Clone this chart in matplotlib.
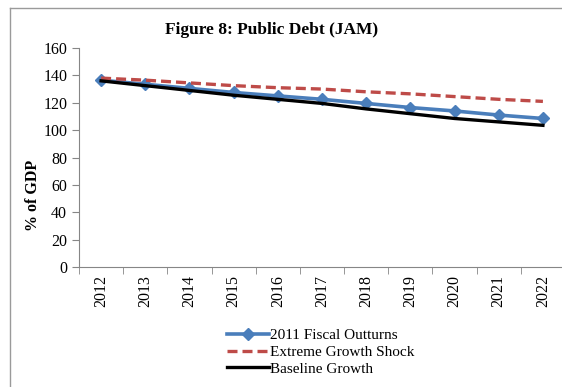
import matplotlib.pyplot as plt
from matplotlib.lines import Line2D

years = ['2012', '2013', '2014', '2015', '2016', '2017', '2018', '2019', '2020', '2021', '2022']
fiscal = [136.5, 133.5, 130.5, 127.5, 125, 122.5, 119.5, 116.5, 114, 111, 108.5]
shock = [138, 136.5, 134.5, 132.5, 131, 130, 128, 126.5, 124.5, 122.5, 121]
baseline = [136, 132.5, 129, 125.5, 122.5, 119.5, 115.5, 112, 108.5, 106, 103.5]

plt.rcParams['font.family'] = ['Liberation Serif', 'DejaVu Serif']

fig = plt.figure(figsize=(5.62, 3.87), dpi=100)
ax = fig.add_axes([79/562, 120/387, 486/562, 219/387])

x = range(len(years))
ax.plot(x, fiscal, color='#4A7EBB', lw=2.6, marker='D', ms=6.5, label='2011 Fiscal Outturns')
ax.plot(x, shock, color='#BE4B48', lw=2.4, ls=(0, (3, 1.5)), label='Extreme Growth Shock')
ax.plot(x, baseline, color='black', lw=2.4, label='Baseline Growth')

ax.set_xlim(-0.5, len(years) - 0.5)
ax.set_ylim(0, 160)
ax.set_yticks(range(0, 161, 20))
ax.set_xticks(x)
ax.set_xticklabels(years, rotation=90, fontsize=11.5)
ax.set_xticks([i - 0.5 for i in range(len(years) + 1)], minor=True)
ax.tick_params(axis='x', which='major', length=0, pad=6)
ax.tick_params(axis='x', which='minor', length=5, color='#868686')
ax.tick_params(axis='y', labelsize=11.5, length=5, color='#868686')
for s in ['top', 'right']:
    ax.spines[s].set_visible(False)
for s in ['left', 'bottom']:
    ax.spines[s].set_color('#868686')

fig.text(272/562, 1 - 30/387, 'Figure 8: Public Debt (JAM)', ha='center', va='center',
         fontsize=12.5, fontweight='bold')
fig.text(33/562, 1 - 195/387, '% of GDP', rotation=90, ha='center', va='center',
         fontsize=11.5, fontweight='bold')

fig.legend(loc='center', bbox_to_anchor=(321/562, 1 - 352/387), frameon=False,
           fontsize=11, handlelength=2.7, handletextpad=0.1, labelspacing=0.2)

# outer chart border (only left and top visible in the crop)
fig.add_artist(Line2D([10/562, 10/562], [0, 1 - 8/387], transform=fig.transFigure,
                      color='#9a9a9a', lw=1))
fig.add_artist(Line2D([10/562, 1], [1 - 8/387, 1 - 8/387], transform=fig.transFigure,
                      color='#9a9a9a', lw=1))

fig.savefig('out.png', dpi=100)
